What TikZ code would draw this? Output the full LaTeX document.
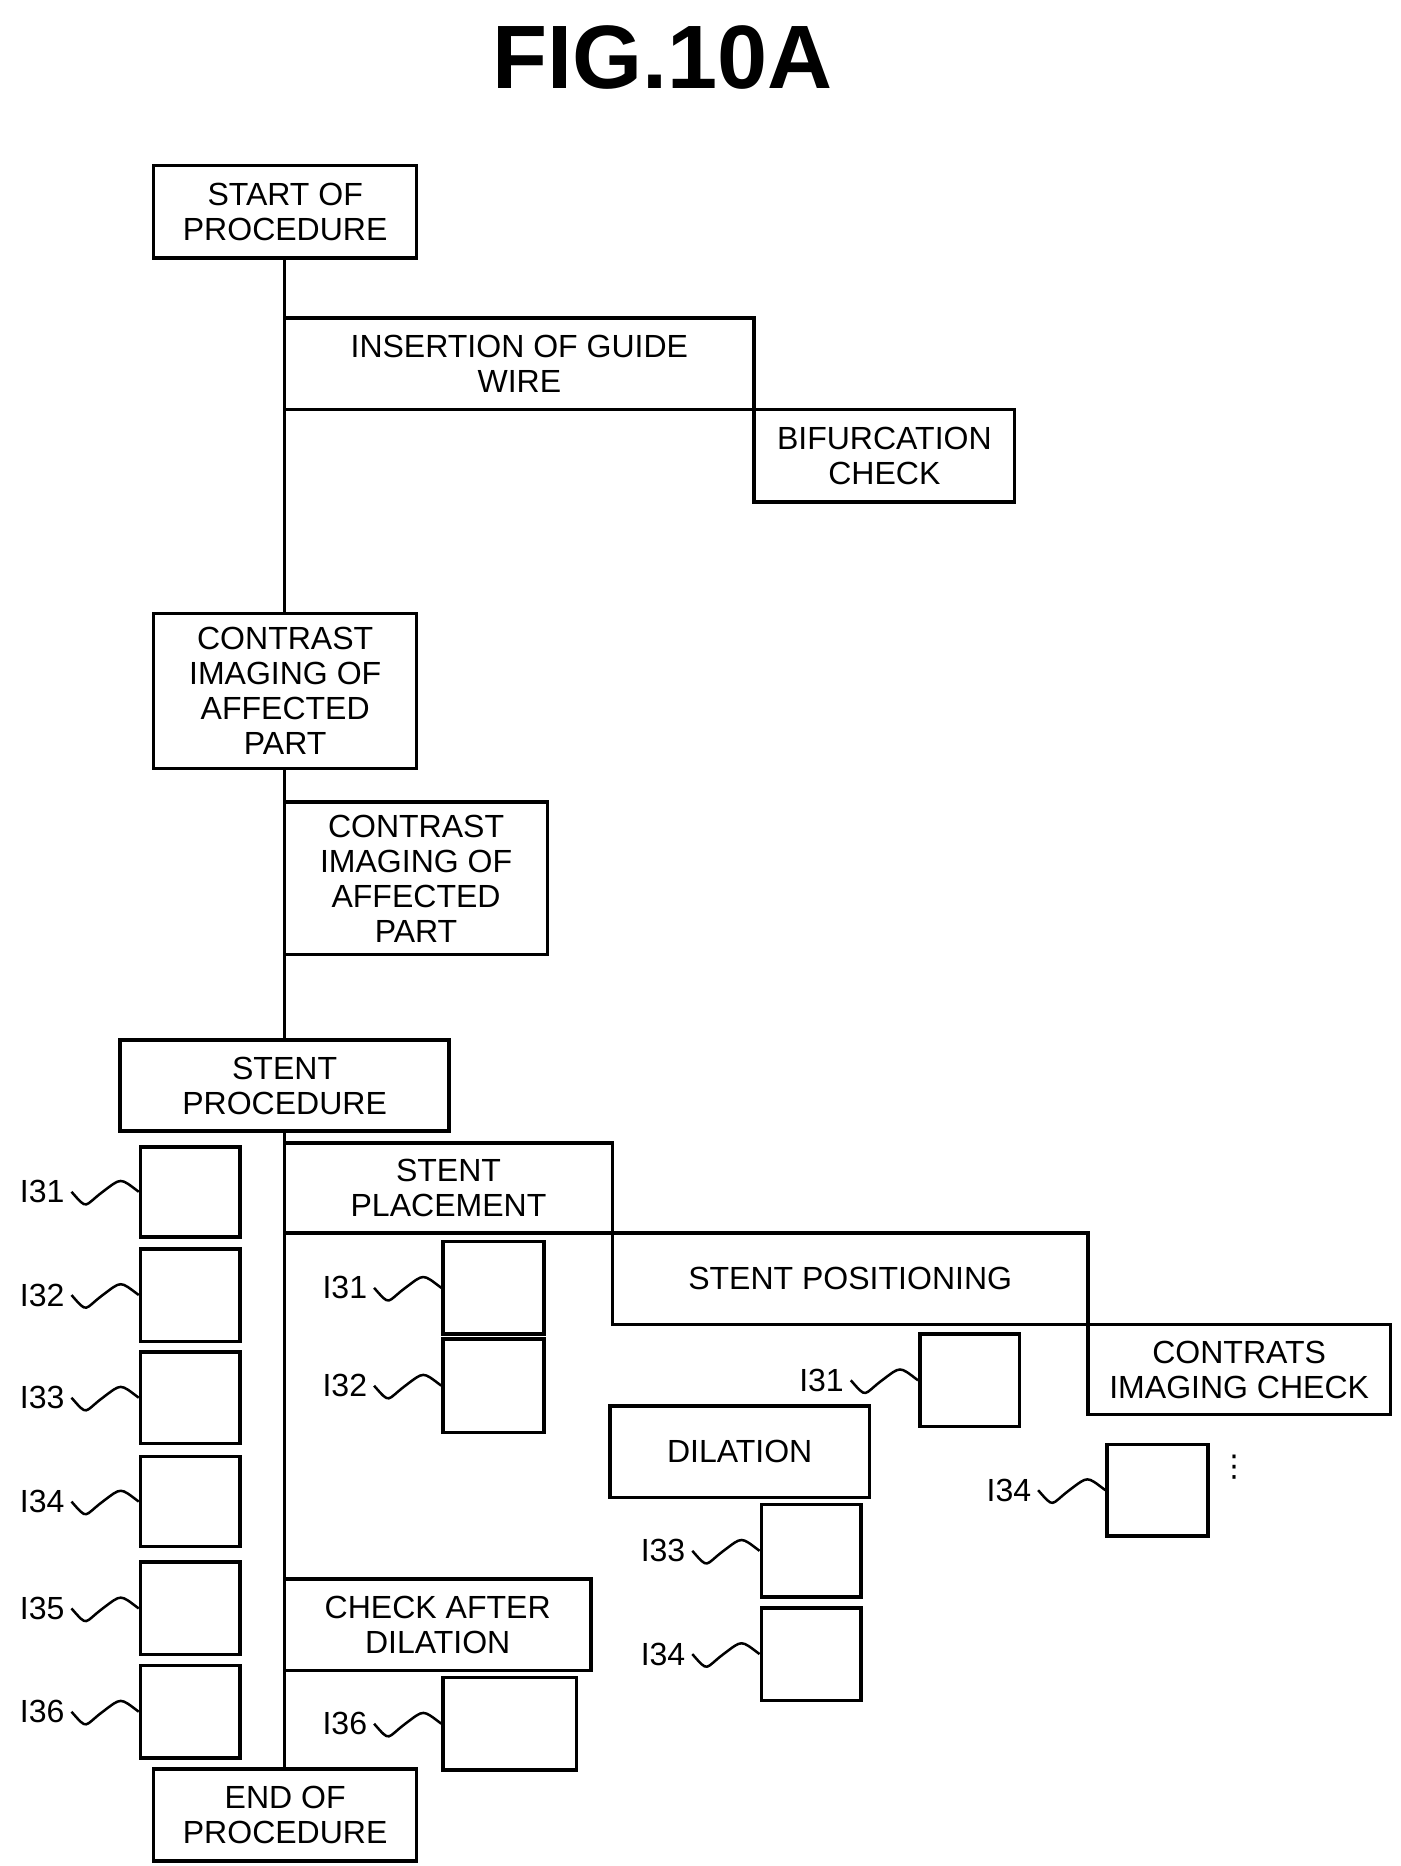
\documentclass[tikz,border=0pt]{standalone}
\usepackage{fontspec}
\setmainfont{Liberation Sans}
\newfontfamily\djv{DejaVu Sans}
\usetikzlibrary{calc}
\begin{document}
\begin{tikzpicture}[x=1.2pt,y=-1.2pt,
  box/.style={draw=black,line width=3.5pt,fill=white,align=center,inner sep=0pt,
    font=\fontsize{32}{35}\selectfont},
  lab/.style={font=\fontsize{32}{35}\selectfont,inner sep=2pt},
  ln/.style={line width=3.5pt},
  sq/.style={line width=2.5pt}]
\useasboundingbox (0,0) rectangle (1166,1554);
\newcommand\bx[6]{\node[box,minimum width={(#4-#2)*1.2pt},minimum height={(#5-#3)*1.2pt}] (#1) at ({(#2+#4)/2},{(#3+#5)/2}) {#6};}
\newcommand\tag[3]{\node[lab,anchor=east] (#1) at ($(#2.west)+(-60,0)$) {#3};
  \draw[sq] ($(#1.east)+(4,0)$) .. controls +(14,16) and +(-16,12) .. ($(#1.east)!0.5!(#2.west)+(0,0)$) .. controls +(16,-12) and +(-16,-12) .. (#2.west);}
\node[font=\fontsize{90}{90}\selectfont\bfseries] (title) at (552,48) {FIG.10A};
\coordinate (top) at (237,215);
\coordinate (bot) at (237,1473);
\draw[ln] (top) -- (bot);
\bx{start}{128}{138}{347}{215}{START OF\\PROCEDURE}
\bx{ins}{237}{265}{628}{341}{INSERTION OF GUIDE\\WIRE}
\bx{bif}{628}{341}{845}{418}{BIFURCATION\\CHECK}
\bx{con1}{128}{511}{347}{640}{CONTRAST\\IMAGING OF\\AFFECTED\\PART}
\bx{con2}{237}{668}{456}{795}{CONTRAST\\IMAGING OF\\AFFECTED\\PART}
\bx{sproc}{100}{866}{374}{942}{STENT\\PROCEDURE}
\bx{L1}{117}{955}{200}{1030}{}
\bx{L2}{117}{1040}{200}{1117}{}
\bx{L3}{117}{1126}{200}{1202}{}
\bx{L4}{117}{1213}{200}{1288}{}
\bx{L5}{117}{1301}{200}{1378}{}
\bx{L6}{117}{1387}{200}{1464}{}
\tag{tL1}{L1}{I31}
\tag{tL2}{L2}{I32}
\tag{tL3}{L3}{I33}
\tag{tL4}{L4}{I34}
\tag{tL5}{L5}{I35}
\tag{tL6}{L6}{I36}
\bx{spl}{237}{952}{510}{1027}{STENT\\PLACEMENT}
\bx{spos}{510}{1027}{906}{1103}{STENT POSITIONING}
\bx{cic}{906}{1103}{1158}{1178}{CONTRATS\\IMAGING CHECK}
\bx{P1}{369}{1034}{453}{1111}{}
\bx{P2}{369}{1115}{453}{1193}{}
\tag{tP1}{P1}{I31}
\tag{tP2}{P2}{I32}
\bx{Q1}{766}{1111}{849}{1188}{}
\tag{tQ1}{Q1}{I31}
\bx{dil}{508}{1171}{724}{1247}{DILATION}
\bx{D3}{634}{1253}{717}{1330}{}
\bx{D4}{634}{1339}{717}{1416}{}
\tag{tD3}{D3}{I33}
\tag{tD4}{D4}{I34}
\bx{R4}{922}{1203}{1006}{1279}{}
\tag{tR4}{R4}{I34}
\node[font=\fontsize{30}{30}\djv,inner sep=0pt] (dots) at (1028,1222) {⋮};
\bx{cad}{237}{1315}{492}{1391}{CHECK AFTER\\DILATION}
\bx{E6}{369}{1397}{480}{1474}{}
\tag{tE6}{E6}{I36}
\bx{endp}{128}{1473}{347}{1550}{END OF\\PROCEDURE}
\end{tikzpicture}
\end{document}
